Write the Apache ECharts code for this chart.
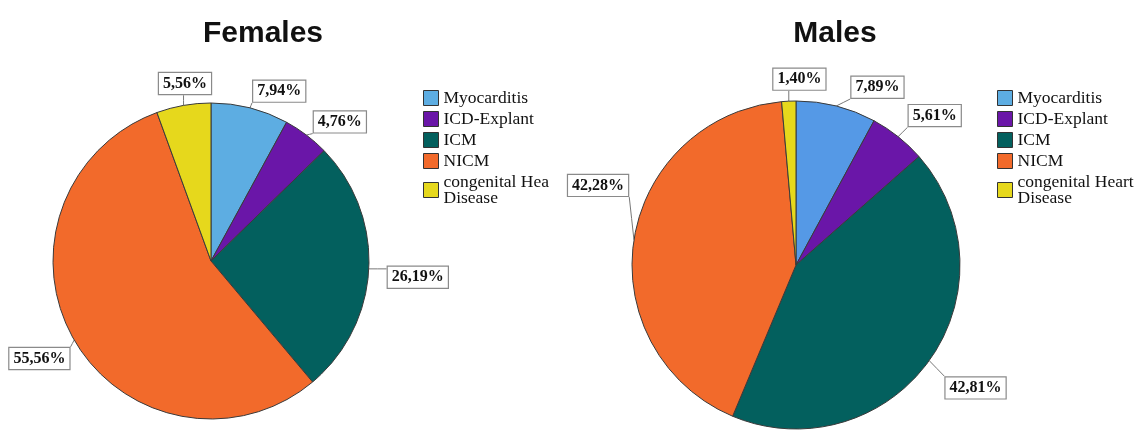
<!DOCTYPE html>
<html>
<head>
<meta charset="utf-8">
<script src="https://cdn.jsdelivr.net/npm/echarts@6/dist/echarts.min.js"></script>
<style>html,body{margin:0;padding:0;background:#fff}#c{width:1140px;height:434px}</style>
</head>
<body>
<div id="c"></div>
<script>
const categories = ['Myocarditis', 'ICD-Explant', 'ICM', 'NICM', 'congenital Heart Disease'];
const femaleValues = [7.94, 4.76, 26.19, 55.56, 5.56];
const maleValues = [7.89, 5.61, 42.81, 42.28, 1.40];
const titles = ['Females', 'Males'];

const femaleColors = ['#5dade2', '#6a16a8', '#03605e', '#f26a2b', '#e6d81c'];
const maleColors = ['#5599e6', '#6a16a8', '#03605e', '#f26a2b', '#e6d81c'];

const femaleLabelShift = [[-1, -8], [0, -6], [8, 8], [5, 14], [31, -13]];
const maleLabelShift = [[11, -10], [3, -14], [7, 22], [5, -53], [39, -13]];

function mkData(vals, cols) {
  return categories.map((n, i) => ({ name: n, value: vals[i], itemStyle: { color: cols[i] } }));
}
function fmt(p) { return p.value.toFixed(2).replace('.', ',') + '%'; }

function layoutWith(shift) {
  return function (p) {
    const s = shift[p.dataIndex];
    const r = p.labelRect;
    const rx = r.x + s[0], ry = r.y + s[1];
    const start = p.labelLinePoints[0];
    const ex = Math.min(Math.max(start[0], rx), rx + r.width);
    const ey = Math.min(Math.max(start[1], ry), ry + r.height);
    return {
      dx: s[0], dy: s[1],
      labelLinePoints: [start, [(start[0] + ex) / 2, (start[1] + ey) / 2], [ex, ey]]
    };
  };
}

const labelStyle = {
  show: true, position: 'outside', formatter: fmt,
  fontFamily: 'Liberation Serif', fontWeight: 'bold', fontSize: 16, color: '#111',
  backgroundColor: '#fff', borderColor: '#8a8a8a', borderWidth: 1.2, padding: [3, 4, 2, 4],
  distanceToLabelLine: 0
};
const lineStyle = { show: true, length: 9, length2: 2, lineStyle: { color: '#777', width: 1 } };

const legendBase = {
  orient: 'vertical', icon: 'rect', itemWidth: 15, itemHeight: 15, itemGap: 3,
  textStyle: { fontFamily: 'Liberation Serif', fontSize: 17.5, color: '#111', lineHeight: 16 },
  itemStyle: { borderColor: '#333', borderWidth: 1 },
  data: categories, selectedMode: false
};

const chart = echarts.init(document.getElementById('c'), null, { renderer: 'canvas' });
chart.setOption({
  animation: false,
  title: [
    { text: titles[0], left: 258, top: 14, textAlign: 'center', textStyle: { fontFamily: 'Liberation Sans', fontWeight: 'bold', fontSize: 30, color: '#111' } },
    { text: titles[1], left: 830, top: 14, textAlign: 'center', textStyle: { fontFamily: 'Liberation Sans', fontWeight: 'bold', fontSize: 30, color: '#111' } }
  ],
  legend: [
    Object.assign({}, legendBase, { left: 418, top: 84,
      formatter: n => n === 'congenital Heart Disease' ? 'congenital Hea\nDisease' : n }),
    Object.assign({}, legendBase, { left: 992, top: 84,
      formatter: n => n === 'congenital Heart Disease' ? 'congenital Heart\nDisease' : n })
  ],
  series: [
    {
      type: 'pie', center: [211, 261], radius: 158, startAngle: 90, clockwise: true,
      avoidLabelOverlap: false, data: mkData(femaleValues, femaleColors),
      itemStyle: { borderColor: '#3a3a3a', borderWidth: 1 },
      label: labelStyle, labelLine: lineStyle,
      labelLayout: layoutWith(femaleLabelShift),
      emphasis: { disabled: true }
    },
    {
      type: 'pie', center: [796, 265], radius: 164, startAngle: 90, clockwise: true,
      avoidLabelOverlap: false, data: mkData(maleValues, maleColors),
      itemStyle: { borderColor: '#3a3a3a', borderWidth: 1 },
      label: labelStyle, labelLine: lineStyle,
      labelLayout: layoutWith(maleLabelShift),
      emphasis: { disabled: true }
    }
  ]
});
</script>
</body>
</html>
